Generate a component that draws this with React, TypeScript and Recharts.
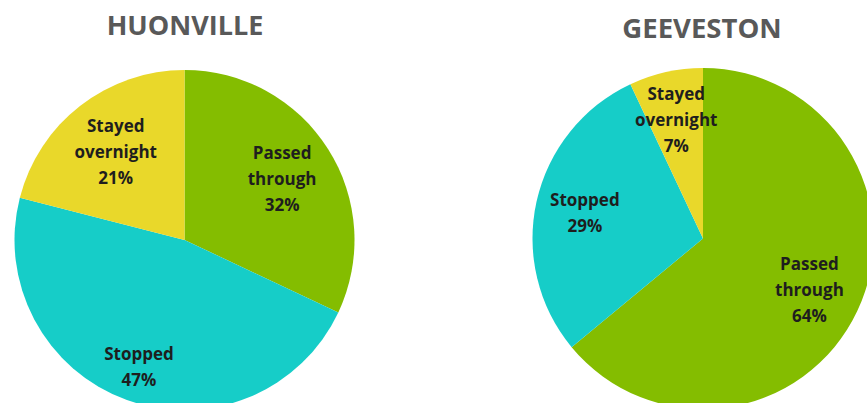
import { PieChart, Pie, Cell } from 'recharts';

const CATEGORIES = ['Passed through', 'Stopped', 'Stayed overnight'];
const HUONVILLE_VALUES = [32, 47, 21];
const GEEVESTON_VALUES = [64, 29, 7];
const TITLES = ['HUONVILLE', 'GEEVESTON'];

const COLORS = ['#84bd00', '#16cdc8', '#e9d82a'];
const RADIAN = Math.PI / 180;
const FONT = '"Open Sans", "Noto Sans", sans-serif';

const huonvilleData = CATEGORIES.map((name, i) => ({ name, value: HUONVILLE_VALUES[i] }));
const geevestonData = CATEGORIES.map((name, i) => ({ name, value: GEEVESTON_VALUES[i] }));

// how far out (fraction of radius) each slice label sits
const makeLabel = (ratios: number[]) => (props: any) => {
  const { cx, cy, midAngle, outerRadius, name, value, index } = props;
  const r = outerRadius * ratios[index];
  const x = cx + r * Math.cos(-midAngle * RADIAN);
  const y = cy + r * Math.sin(-midAngle * RADIAN);
  const lines = [...String(name).split(' '), `${value}%`];
  const lh = 26;
  const top = y - ((lines.length - 1) * lh) / 2;
  return (
    <text
      x={x}
      y={top}
      textAnchor="middle"
      dominantBaseline="central"
      fill="#1e1e1e"
      fontFamily={FONT}
      fontWeight={700}
      fontSize={17}
    >
      {lines.map((l, i) => (
        <tspan key={i} x={x} y={top + i * lh}>
          {l}
        </tspan>
      ))}
    </text>
  );
};

export default function App() {
  return (
    <div style={{ position: 'absolute', left: 0, top: 0, width: 867, height: 403, background: '#fff', overflow: 'hidden' }}>
      <PieChart width={867} height={403} margin={{ top: 0, right: 0, bottom: 0, left: 0 }}>
        <Pie
          data={huonvilleData}
          dataKey="value"
          nameKey="name"
          cx={184.5}
          cy={240}
          outerRadius={170}
          startAngle={90}
          endAngle={-270}
          stroke="none"
          labelLine={false}
          label={makeLabel([0.68, 0.79, 0.66])}
          isAnimationActive={false}
        >
          {huonvilleData.map((_, i) => (
            <Cell key={i} fill={COLORS[i]} />
          ))}
        </Pie>
        <Pie
          data={geevestonData}
          dataKey="value"
          nameKey="name"
          cx={703}
          cy={238.5}
          outerRadius={170.5}
          startAngle={90}
          endAngle={-270}
          stroke="none"
          labelLine={false}
          label={makeLabel([0.69, 0.71, 0.72])}
          isAnimationActive={false}
        >
          {geevestonData.map((_, i) => (
            <Cell key={i} fill={COLORS[i]} />
          ))}
        </Pie>
      </PieChart>
      <svg width={867} height={60} style={{ position: 'absolute', left: 0, top: 0 }}>
        <text x={185} y={35} textAnchor="middle" fill="#595959" fontFamily={FONT} fontWeight={700} fontSize={27}>
          {TITLES[0]}
        </text>
        <text x={702} y={38} textAnchor="middle" fill="#595959" fontFamily={FONT} fontWeight={700} fontSize={27.5}>
          {TITLES[1]}
        </text>
      </svg>
    </div>
  );
}
